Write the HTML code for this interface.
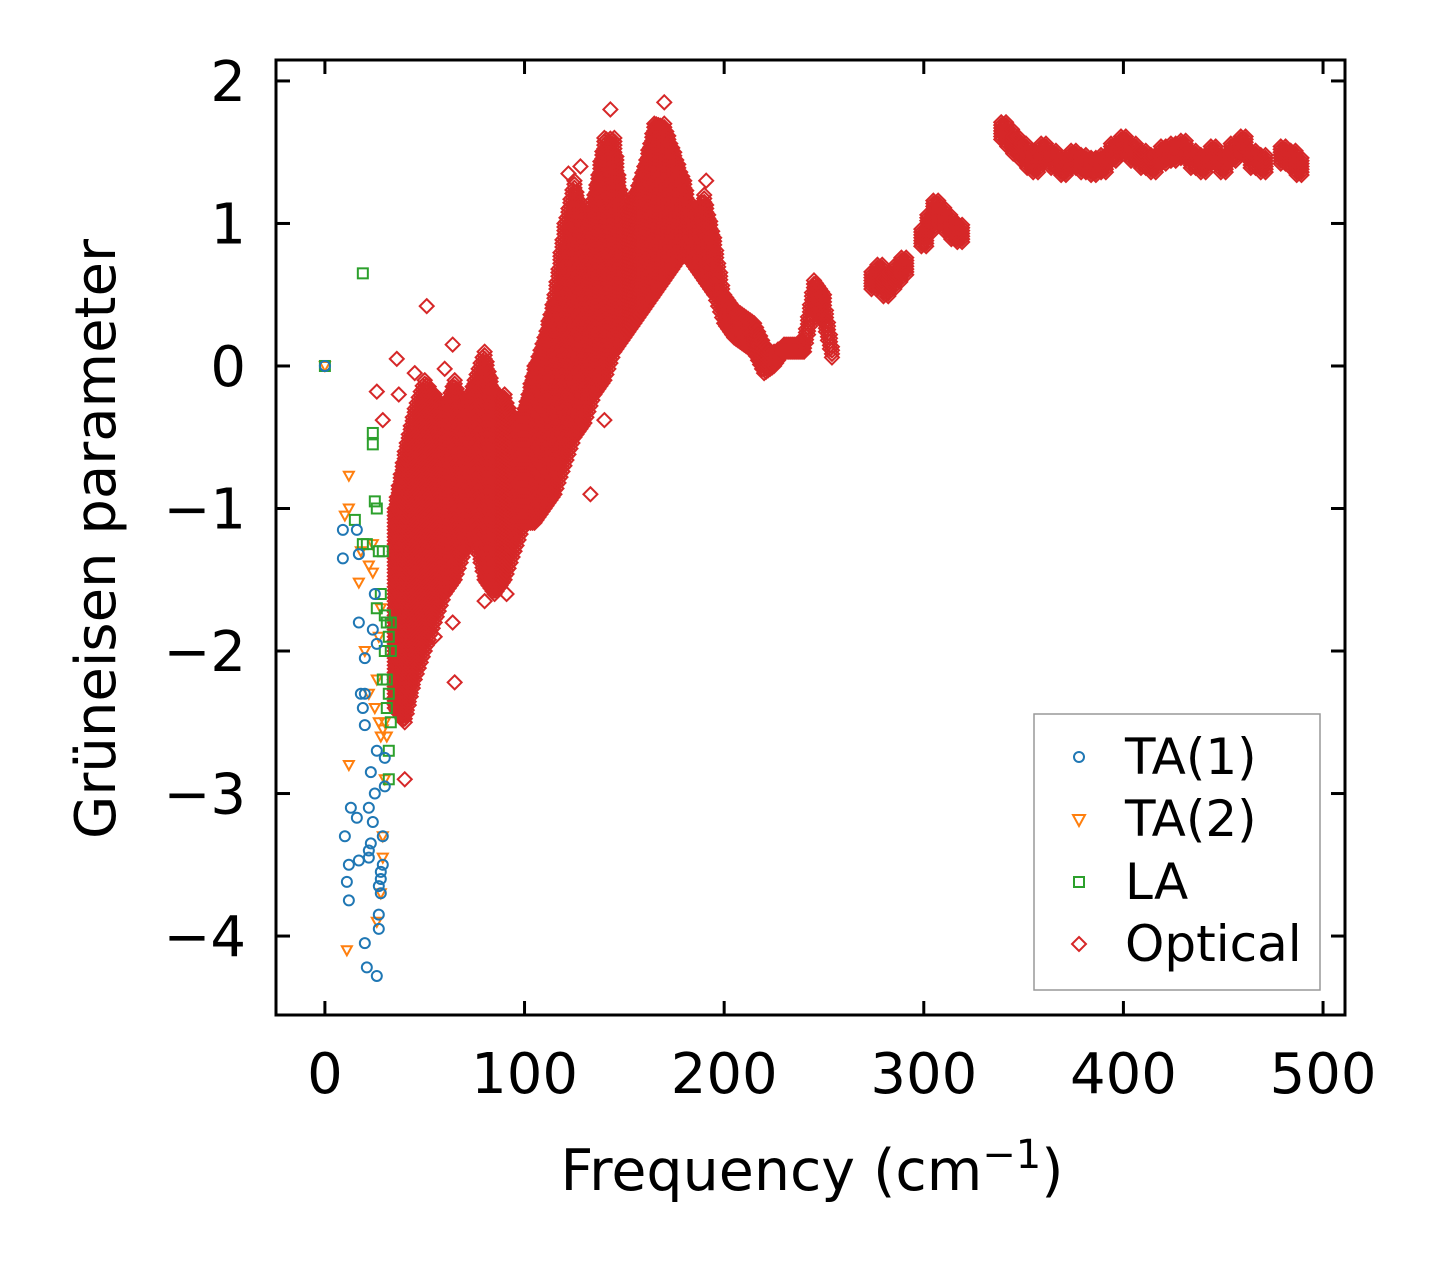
<!DOCTYPE html>
<html><head><meta charset="utf-8"><style>
html,body{margin:0;padding:0;background:#fff;}
svg{display:block;font-family:"DejaVu Sans","Liberation Sans",sans-serif;}
</style></head><body>
<svg id="chart" width="1438" height="1264" viewBox="0 0 1438 1264" xmlns="http://www.w3.org/2000/svg">
<g id="marks"></g>
<rect x="276" y="60" width="1069" height="955" fill="none" stroke="#000" stroke-width="3"/>
<g id="axes"></g>
<text x="812" y="1190" font-size="57" text-anchor="middle">Frequency (cm<tspan dy="-22" font-size="40">−1</tspan><tspan dy="22">)</tspan></text>
<text transform="translate(115,539) rotate(-90)" font-size="56" text-anchor="middle">Grüneisen parameter</text>
<g>
<rect x="1034" y="714" width="286" height="276" fill="#fff" stroke="#999" stroke-width="1.5"/>
<circle cx="1079" cy="757" r="5" fill="none" stroke="#1f77b4" stroke-width="2"/>
<text x="1125" y="774" font-size="50">TA(1)</text>
<path d="M1073,815 L1085,815 L1079,826 Z" fill="none" stroke="#ff7f0e" stroke-width="2"/>
<text x="1125" y="836" font-size="50">TA(2)</text>
<rect x="1074" y="877" width="10" height="10" fill="none" stroke="#2ca02c" stroke-width="2"/>
<text x="1125" y="899" font-size="50">LA</text>
<path d="M1079,937 L1086,944 L1079,951 L1072,944 Z" fill="none" stroke="#d62728" stroke-width="2"/>
<text x="1125" y="961" font-size="50">Optical</text>
</g>
</svg>
<script>
const xTicks=[0,100,200,300,400,500];
const yTicks=[2,1,0,-1,-2,-3,-4];
const yTickLabels=["2","1","0","−1","−2","−3","−4"];
// optical dense band: frequency, lower and upper gamma
const bandFreq=[35,40,45,50,55,60,65,70,75,80,85,90,95,100,105,110,115,120,125,130,135,140,145,150,155,160,165,170,175,180,185,190,195,200,205,210,215,220,225,230,235,240,245,250,255];
const bandLow=[-2.4,-2.5,-2.2,-2.0,-1.8,-1.6,-1.5,-1.3,-1.2,-1.5,-1.6,-1.5,-1.3,-1.1,-1.1,-1.0,-0.9,-0.7,-0.5,-0.4,-0.2,-0.1,0.1,0.2,0.3,0.4,0.5,0.6,0.7,0.8,0.7,0.6,0.5,0.3,0.2,0.15,0.1,-0.05,0.0,0.1,0.1,0.1,0.4,0.3,0.0];
const bandHigh=[-1.0,-0.6,-0.3,-0.1,-0.2,-0.3,-0.1,-0.3,-0.1,0.1,-0.2,-0.2,-0.4,-0.3,0.0,0.2,0.5,1.0,1.3,1.0,1.2,1.6,1.6,1.0,1.2,1.4,1.7,1.7,1.5,1.3,1.0,1.2,0.9,0.5,0.4,0.35,0.3,0.15,0.1,0.15,0.15,0.2,0.6,0.5,0.05];
// optical discrete points (high-frequency & outliers)
const optX=[275,278,281,284,287,290,300,303,306,309,312,315,318,340,343,346,350,353,356,360,365,370,375,380,385,390,395,400,405,410,415,420,425,430,435,440,445,450,455,460,465,470,480,485,488,51,64,36,26,29,65,40,55,64,80,91,133,140,128,122,170,143,191,37,45,60];
const optY=[0.6,0.65,0.55,0.6,0.65,0.7,0.9,1.0,1.1,1.05,1.0,0.95,0.93,1.65,1.6,1.55,1.5,1.45,1.42,1.5,1.45,1.4,1.45,1.42,1.4,1.42,1.5,1.55,1.5,1.45,1.42,1.48,1.5,1.52,1.45,1.42,1.48,1.42,1.5,1.55,1.45,1.42,1.48,1.45,1.4,0.42,0.15,0.05,-0.18,-0.38,-2.22,-2.9,-1.9,-1.8,-1.65,-1.6,-0.9,-0.38,1.4,1.35,1.85,1.8,1.3,-0.2,-0.05,-0.02];
const ta1X=[0,9,9,10,11,12,12,13,16,17,17,18,19,20,20,20,21,22,22,23,23,24,24,25,25,26,26,27,27,27,28,28,29,29,30,30,28,26,20,16,22,17];
const ta1Y=[0,-1.15,-1.35,-3.3,-3.62,-3.75,-3.5,-3.1,-3.17,-3.47,-1.8,-2.3,-2.4,-2.52,-2.05,-4.05,-4.22,-3.4,-3.45,-3.35,-2.85,-3.2,-1.85,-1.6,-3.0,-4.28,-2.7,-3.65,-3.85,-3.95,-3.7,-3.6,-3.5,-3.3,-2.75,-2.95,-3.55,-1.95,-2.3,-1.15,-3.1,-1.32];
const ta2X=[0,12,12,10,17,18,12,11,20,22,22,24,24,25,26,27,28,29,30,31,30,29,29,28,26,27,28];
const ta2Y=[0,-0.77,-1.0,-1.05,-1.52,-1.3,-2.8,-4.1,-2.0,-2.3,-1.4,-1.25,-1.45,-2.4,-2.2,-2.5,-2.6,-2.55,-2.5,-2.6,-2.9,-3.3,-3.45,-3.7,-3.9,-1.9,-1.7];
const laX=[0,19,24,24,15,19,21,25,26,27,26,28,30,31,32,33,33,32,31,33,32,32,29,30,31,29];
const laY=[0,0.65,-0.47,-0.55,-1.08,-1.25,-1.25,-0.95,-1.0,-1.3,-1.7,-1.6,-1.75,-1.8,-1.9,-1.8,-2.0,-2.3,-2.4,-2.5,-2.7,-2.9,-2.2,-2.0,-2.2,-1.3];

const NS="http://www.w3.org/2000/svg";
const X0=-24.5,X1=511,Y0=-4.554,Y1=2.147;
function sx(v){return 276+(v-X0)/(X1-X0)*1069;}
function sy(v){return 1015-(v-Y0)/(Y1-Y0)*955;}
const marks=document.getElementById('marks');
const axes=document.getElementById('axes');
function mk(tag,attrs,parent){const e=document.createElementNS(NS,tag);for(const k in attrs)e.setAttribute(k,attrs[k]);parent.appendChild(e);return e;}
function diamond(x,y){const px=sx(x),py=sy(y);const e=mk('path',{d:`M${px},${py-7}L${px+7},${py}L${px},${py+7}L${px-7},${py}Z`,fill:'none',stroke:'#d62728','stroke-width':2},marks);

}
// dense band: interpolate between columns
for(let i=0;i<bandFreq.length-1;i++){
  for(let s=0;s<5;s++){
    const t=s/5;
    const f=bandFreq[i]+(bandFreq[i+1]-bandFreq[i])*t;
    const lo=bandLow[i]+(bandLow[i+1]-bandLow[i])*t;
    const hi=bandHigh[i]+(bandHigh[i+1]-bandHigh[i])*t;
    for(let g=lo;g<=hi+1e-9;g+=0.025)diamond(f,g);
  }
}
for(let i=0;i<optX.length;i++){diamond(optX[i],optY[i]);if(optX[i]>=270&&optX[i]<=490){for(let d=-0.06;d<=0.061;d+=0.02){diamond(optX[i]+1.2,optY[i]+d);diamond(optX[i]-1.2,optY[i]+d);}}}
for(let i=0;i<ta2X.length;i++){const px=sx(ta2X[i]),py=sy(ta2Y[i]);const e=mk('path',{d:`M${px-5},${py-4}L${px+5},${py-4}L${px},${py+5}Z`,fill:'none',stroke:'#ff7f0e','stroke-width':2},marks);

}
for(let i=0;i<laX.length;i++){const px=sx(laX[i]),py=sy(laY[i]);const e=mk('rect',{x:px-5,y:py-5,width:10,height:10,fill:'none',stroke:'#2ca02c','stroke-width':2},marks);

}
for(let i=0;i<ta1X.length;i++){const e=mk('circle',{cx:sx(ta1X[i]),cy:sy(ta1Y[i]),r:5,fill:'none',stroke:'#1f77b4','stroke-width':2},marks);

}
// ticks
xTicks.forEach(v=>{const px=sx(v);
 mk('line',{x1:px,y1:1015,x2:px,y2:1001,stroke:'#000','stroke-width':3},axes);
 mk('line',{x1:px,y1:60,x2:px,y2:74,stroke:'#000','stroke-width':3},axes);
 const t=mk('text',{x:px,y:1093,'font-size':56,'text-anchor':'middle'},axes);t.textContent=String(v);
 
 });
yTicks.forEach((v,i)=>{const py=sy(v);
 mk('line',{x1:276,y1:py,x2:290,y2:py,stroke:'#000','stroke-width':3},axes);
 mk('line',{x1:1345,y1:py,x2:1331,y2:py,stroke:'#000','stroke-width':3},axes);
 const t=mk('text',{x:246,y:py+20,'font-size':56,'text-anchor':'end'},axes);t.textContent=yTickLabels[i];
 
 });
</script>
</body></html>
